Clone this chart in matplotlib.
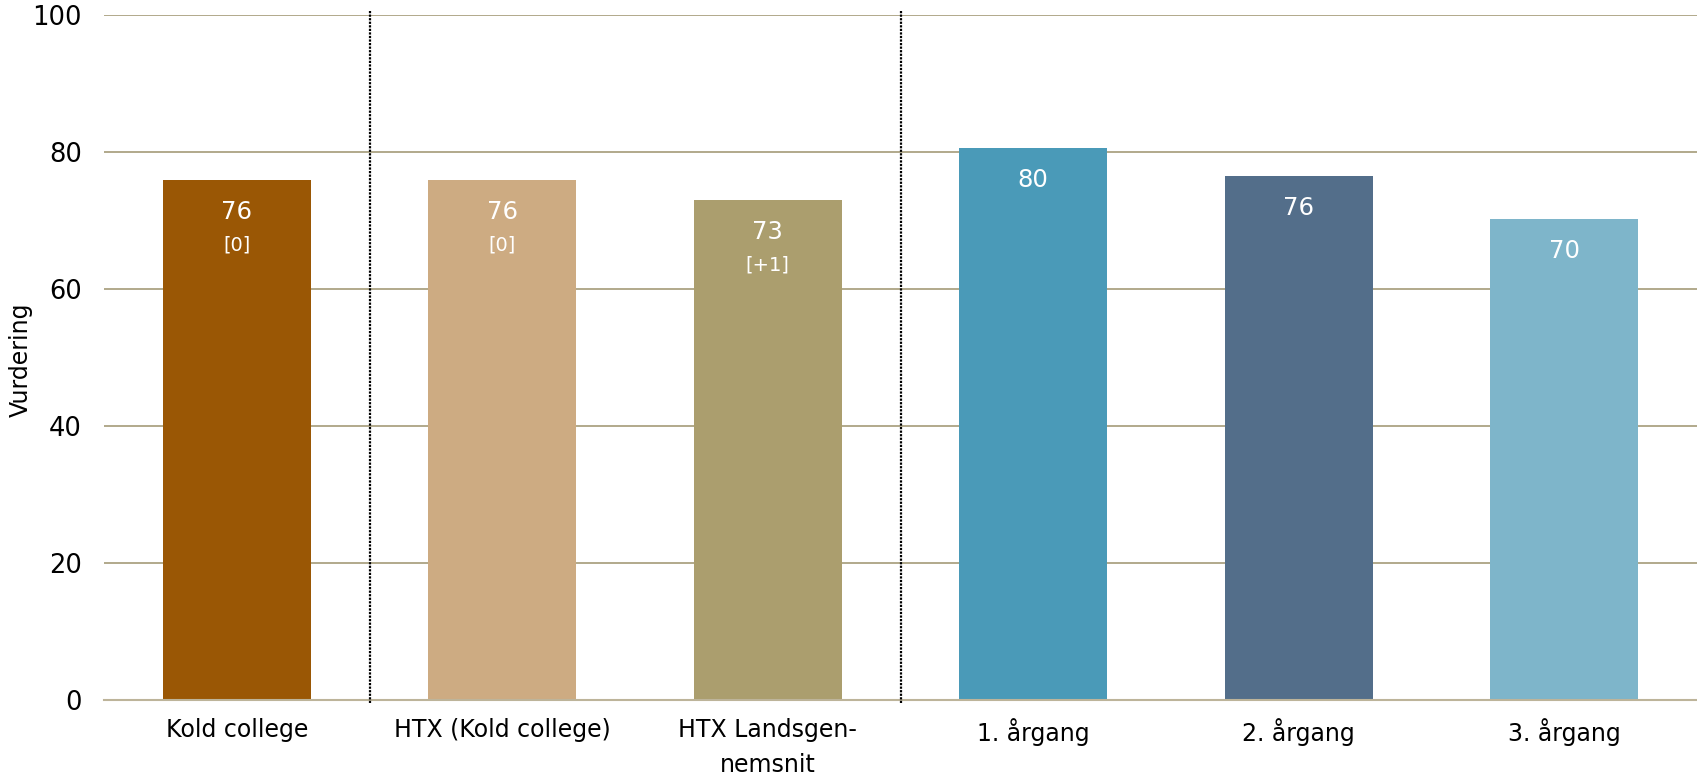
import matplotlib
matplotlib.use("Agg")
import matplotlib.pyplot as plt
import numpy as np

categories = ["Kold college", "HTX (Kold college)", "HTX Landsgen-\nnemsnit",
              "1. årgang", "2. årgang", "3. årgang"]
values = [75.9, 75.9, 73.0, 80.5, 76.4, 70.2]
value_labels = ["76", "76", "73", "80", "76", "70"]
change_labels = ["[0]", "[0]", "[+1]", "", "", ""]
colors = ["#9A5705", "#CDAB82", "#AB9E6E", "#4A9AB8", "#536E8A", "#7EB5CA"]
yticks = [0, 20, 40, 60, 80, 100]

plt.rcParams['font.family'] = ['DejaVu Sans']
fig = plt.figure(figsize=(16.97, 7.79), dpi=100)
ax = fig.add_axes([0.0613, 0.1018, 1 - 0.0613, 0.981 - 0.1018])

x = np.arange(len(categories))
bars = ax.bar(x, values, width=0.557, color=colors, zorder=3)

ax.set_xlim(-0.5, 5.5)
ax.set_ylim(0, 100)
ax.set_yticks(yticks)
ax.set_yticklabels([str(t) for t in yticks], fontsize=18.5)
ax.set_xticks(x)
ax.set_xticklabels(categories, fontsize=17, linespacing=1.6)
ax.tick_params(axis='x', length=0, pad=13)
ax.tick_params(axis='y', length=0, pad=16)

ax.grid(axis='y', color='#A49B78', linewidth=1.2, zorder=0)
for s in ['top', 'right', 'left']:
    ax.spines[s].set_visible(False)
ax.spines['bottom'].set_color('#BDB49A')
ax.spines['bottom'].set_linewidth(1.5)
ax.spines['bottom'].set_zorder(4)

for xv in [0.5, 2.5]:
    ax.axvline(xv, ymin=-0.005, ymax=1.006, color='black', linestyle=(0, (1, 0.6)),
               linewidth=1.6, clip_on=False, zorder=5)

for xi, v, vl, cl in zip(x, values, value_labels, change_labels):
    ax.annotate(vl, (xi, v), xytext=(0, -23), textcoords='offset points',
                ha='center', va='center', color='white', fontsize=17.5, zorder=6)
    if cl:
        ax.annotate(cl, (xi, v), xytext=(0, -47), textcoords='offset points',
                    ha='center', va='center', color='white', fontsize=14, zorder=6)

ax.set_ylabel("Vurdering", fontsize=17, va='center')
ax.yaxis.set_label_coords(-0.052, 0.496)

fig.savefig("out.png", dpi=100)
